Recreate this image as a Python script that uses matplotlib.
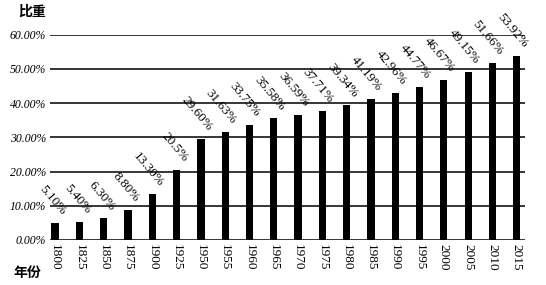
import numpy as np
import matplotlib
matplotlib.use("Agg")
import matplotlib.pyplot as plt

plt.rcParams['font.family'] = ['Liberation Serif', 'Noto Sans CJK SC', 'DejaVu Sans']

years = ["1800", "1825", "1850", "1875", "1900", "1925", "1950", "1955", "1960", "1965",
         "1970", "1975", "1980", "1985", "1990", "1995", "2000", "2005", "2010", "2015"]
share = [5.10, 5.40, 6.30, 8.80, 13.30, 20.5, 29.60, 31.63, 33.75, 35.58,
         36.59, 37.71, 39.34, 41.19, 42.96, 44.77, 46.67, 49.15, 51.66, 53.92]
share_txt = ["5.10%", "5.40%", "6.30%", "8.80%", "13.30%", "20.5%", "29.60%", "31.63%", "33.75%", "35.58%",
             "36.59%", "37.71%", "39.34%", "41.19%", "42.96%", "44.77%", "46.67%", "49.15%", "51.66%", "53.92%"]
yticks = [0, 10, 20, 30, 40, 50, 60]

fig = plt.figure(figsize=(5.46, 2.85), dpi=100)
ax = fig.add_axes([0.092, 0.158, 0.87, 0.72])

x = np.arange(len(years))
ax.bar(x, share, width=0.3, color="black", zorder=3)

for yv in yticks:
    ax.axhline(yv, color="black", lw=1.1, zorder=1)

# 数据标签，斜着写在柱子上方
for xi, v, t in zip(x, share, share_txt):
    ax.annotate(t, (xi, v), xytext=(3, 4), textcoords="offset points",
                rotation=-50, rotation_mode="anchor", ha="right", va="bottom",
                fontsize=9.5, annotation_clip=False)

ax.set_xlim(-0.2, 19.35)
ax.set_ylim(0, 60)
ax.set_yticks(yticks)
ax.set_yticklabels(["%.2f%%" % v for v in yticks], fontsize=8.5, style="italic")
ax.set_xticks(x)
ax.set_xticklabels(years, rotation=270, fontsize=9.5)
ax.tick_params(length=0, pad=3)
for s in ax.spines.values():
    s.set_visible(False)

fig.text(0.033, 0.945, "比重", fontsize=10, fontweight="bold", family=['Noto Sans CJK SC'])
fig.text(0.025, 0.03, "年份", fontsize=10, fontweight="bold", family=['Noto Sans CJK SC'])

fig.savefig("out.png", dpi=100)
